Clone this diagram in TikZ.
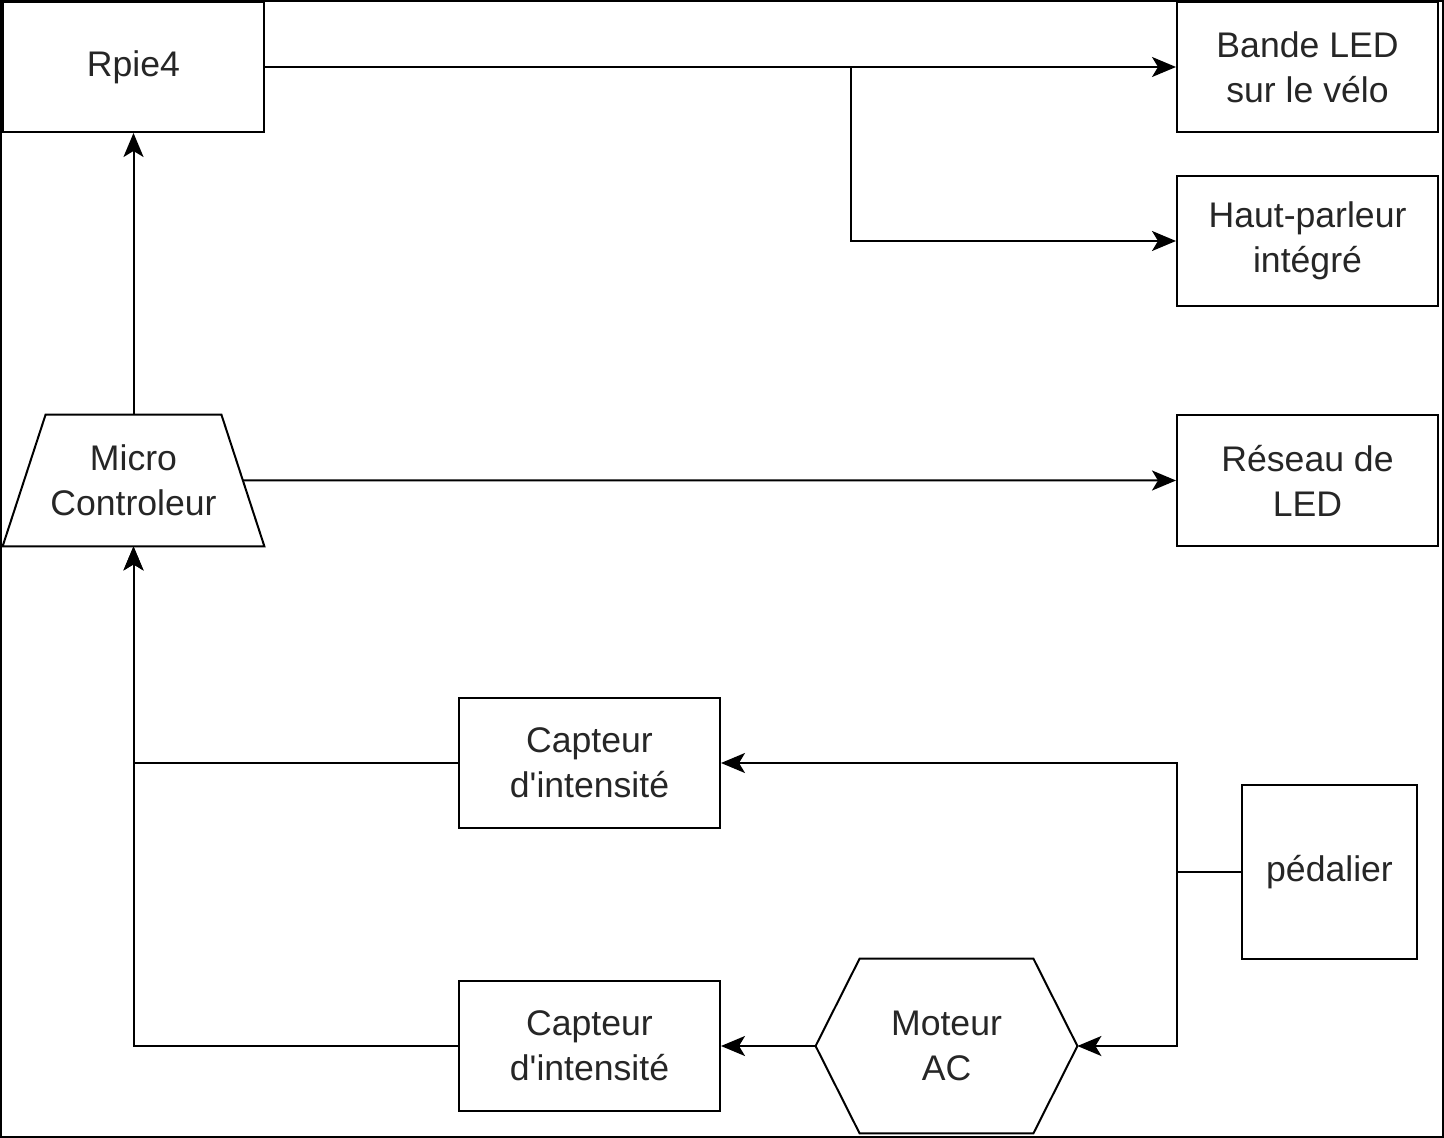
\documentclass[tikz,border=0pt]{standalone}
\usepackage{fontspec}
\setmainfont{Liberation Sans}
\usetikzlibrary{arrows.meta,calc}
\begin{document}
\begin{tikzpicture}[x=0.5pt,y=-0.5pt,
  every node/.style={font=\fontsize{17.8}{22.5}\selectfont, align=center, text=black!85},
  box/.style={draw, line width=1pt, minimum width=130.5pt, minimum height=65pt, inner sep=0pt},
  ghost/.style={minimum width=130.5pt, inner sep=0pt},
  conn/.style={line width=1pt},
  arr/.style={conn, -{Stealth[length=12pt,width=10pt,inset=3pt]}}]
\useasboundingbox (0,0) rectangle (1444,1138);
\draw[line width=1.5pt] (0.75,0.75) rectangle (1443.25,1137.25);
% nodes
\node[box] (rpie) at (133.5,67) {Rpie4};
\node[box] (bande) at (1307.5,67) {Bande LED\\sur le vélo};
\node[box] (haut) at (1307.5,241) {Haut-parleur\\intégré};
\node[ghost, minimum height=65.5pt] (micro) at (133.5,480.5) {Micro\\Controleur};
\draw[line width=1pt] (micro.south west) -- (micro.south east)
  -- ([xshift=-21.5pt]micro.north east) -- ([xshift=21.5pt]micro.north west) -- cycle;
\coordinate (microE) at ($(micro.south east)!0.5!([xshift=-21.5pt]micro.north east)$);
\node[box, minimum height=65.5pt] (reseau) at (1307.5,480.5) {Réseau de\\LED};
\node[box] (capt1) at (589.5,763) {Capteur\\d\textquotesingle intensité};
\node[box] (capt2) at (589.5,1046) {Capteur\\d\textquotesingle intensité};
\node[box, minimum width=87.5pt, minimum height=87pt] (pedal) at (1329.5,872) {pédalier};
\node[ghost, minimum height=87pt] (moteur) at (946.5,1046) {Moteur\\AC};
\draw[line width=1pt] (moteur.west) -- ([xshift=22pt]moteur.north west)
  -- ([xshift=-22pt]moteur.north east) -- (moteur.east)
  -- ([xshift=-22pt]moteur.south east) -- ([xshift=22pt]moteur.south west) -- cycle;
% connectors
\coordinate (split) at (851,67);
\coordinate (pj) at (1177,872);
\draw[arr] (rpie.east) -- (bande.west);
\draw[arr] (split) |- (haut.west);
\draw[arr] (micro.north) -- (rpie.south);
\draw[arr] (microE) -- (reseau.west);
\draw[arr] (capt2.west) -| (micro.south);
\draw[arr] (capt1.west) -| (micro.south);
\draw[conn] (pedal.west) -- (pj);
\draw[arr] (pj) |- (capt1.east);
\draw[arr] (pj) |- (moteur.east);
\draw[arr] (moteur.west) -- (capt2.east);
\end{tikzpicture}
\end{document}
